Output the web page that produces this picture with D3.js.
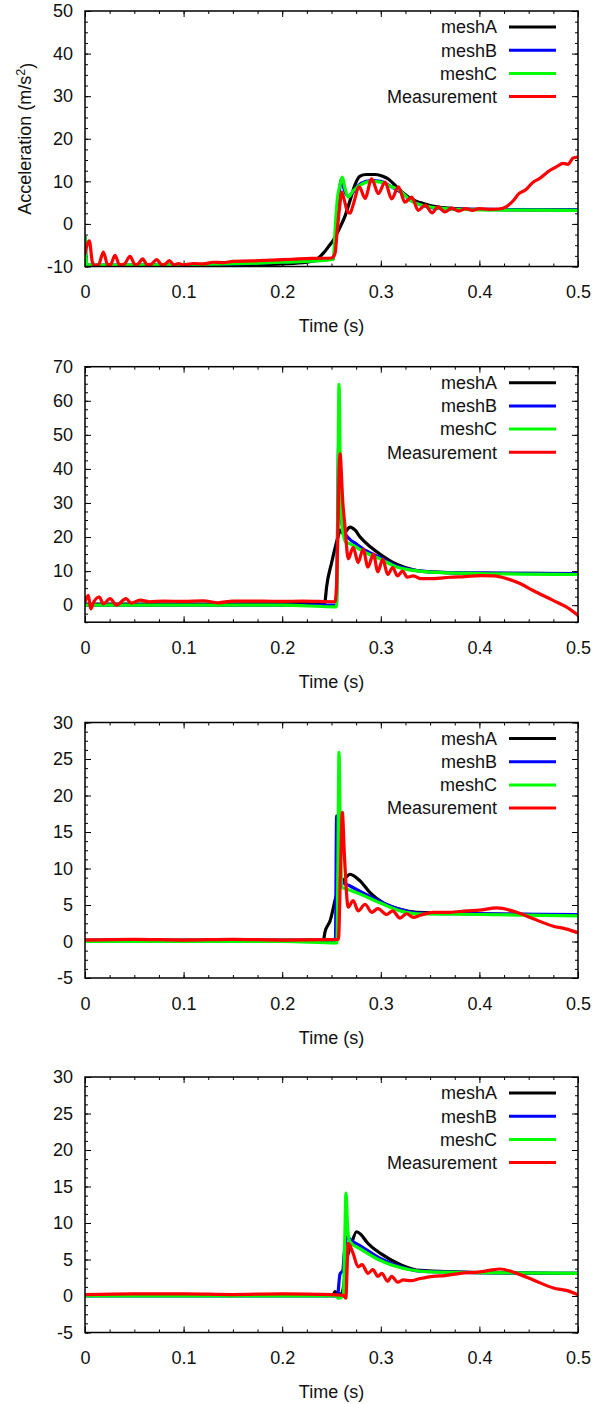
<!DOCTYPE html>
<html><head><meta charset="utf-8">
<script src="https://cdn.jsdelivr.net/npm/d3@7"></script>
<style>
body{margin:0;background:#fff}
svg{display:block}
text{font-family:"Liberation Sans",Arial,Helvetica,sans-serif;fill:#111}
</style>
</head><body>
<svg id="chart" width="595" height="1404"></svg>
<script>
// ---------- data ----------
const seriesNames = ["meshA", "meshB", "meshC", "Measurement"];
const seriesColors = ["#000000", "#0000ff", "#00ff00", "#ff0000"];
const xTicks = [0, 0.1, 0.2, 0.3, 0.4, 0.5];
const xTickLabels = ["0", "0.1", "0.2", "0.3", "0.4", "0.5"];
const xLabel = "Time (s)";
const yLabelMain = "Acceleration (m/s";
const yLabelSup = "2";
const yLabelEnd = ")";

const p1YTicks = [-10, 0, 10, 20, 30, 40, 50];
const p2YTicks = [0, 10, 20, 30, 40, 50, 60, 70];
const p3YTicks = [-5, 0, 5, 10, 15, 20, 25, 30];
const p4YTicks = [-5, 0, 5, 10, 15, 20, 25, 30];
const p1YDomain = [-10, 50];
const p2YDomain = [-5, 70];
const p3YDomain = [-5, 30];
const p4YDomain = [-5, 30];

// Panel 1
const p1MeshA = [[0,-9.8],[0.05,-9.8],[0.1,-9.8],[0.15,-9.7],[0.2,-9.4],[0.225,-9.0],[0.235,-8.3],[0.242,-6.8],[0.248,-5],[0.2515,-3.9],[0.2586,-0.8],[0.264,2],[0.2688,5.5],[0.274,9.3],[0.279,11.2],[0.285,11.6],[0.295,11.6],[0.302,11.2],[0.308,10.5],[0.316,8.7],[0.323,7.2],[0.33,6],[0.337,5.2],[0.343,4.8],[0.35,4.3],[0.36,3.9],[0.375,3.6],[0.4,3.4],[0.45,3.3],[0.5,3.3]];
const p1MeshB = [[0,-3],[0.002,-9.7],[0.1,-9.6],[0.2,-9.0],[0.245,-8.4],[0.252,-8.2],[0.2545,-2],[0.257,5],[0.26,10.5],[0.263,8],[0.267,6.5],[0.272,7.5],[0.28,9.5],[0.29,10.2],[0.3,10],[0.31,8.8],[0.32,7.5],[0.33,5.6],[0.34,4.5],[0.35,3.9],[0.37,3.5],[0.4,3.4],[0.5,3.3]];
const p1MeshC = [[0,-3],[0.002,-9.7],[0.1,-9.6],[0.2,-9.0],[0.245,-8.5],[0.252,-8.3],[0.2535,-2],[0.256,6],[0.2585,9],[0.261,11],[0.2635,8.5],[0.267,6.3],[0.272,7.8],[0.282,9.5],[0.29,10],[0.3,9.8],[0.31,8.8],[0.319,7.9],[0.33,5.5],[0.345,4.2],[0.36,3.7],[0.37,3.5],[0.4,3.3],[0.5,3.2]];
const p1Meas = [[0,-7],[0.0044,-4],[0.0075,-9],[0.01,-9.8],[0.014,-9.5],[0.0186,-6.6],[0.023,-9.6],[0.026,-9.5],[0.0304,-7.4],[0.035,-9.6],[0.04,-9.4],[0.0456,-7.6],[0.051,-9.6],[0.054,-9.4],[0.0585,-8.2],[0.063,-9.6],[0.067,-9.5],[0.0727,-8.4],[0.078,-9.6],[0.081,-9.5],[0.0855,-8.6],[0.09,-9.6],[0.095,-9.3],[0.1,-9.6],[0.11,-9.3],[0.12,-9.4],[0.13,-9.0],[0.14,-9.1],[0.15,-8.8],[0.17,-8.7],[0.19,-8.5],[0.21,-8.3],[0.23,-8.1],[0.25,-8.0],[0.2535,-7],[0.256,-1],[0.2585,4.5],[0.2603,7.5],[0.2625,6],[0.2665,2.8],[0.2688,2.5],[0.272,4.5],[0.2782,8.7],[0.284,6],[0.2908,10.6],[0.2975,7.1],[0.3043,9.8],[0.311,5.9],[0.3178,8.7],[0.3245,5.1],[0.3313,6.3],[0.338,3.2],[0.345,4.4],[0.352,2.6],[0.358,4],[0.365,2.8],[0.372,3.7],[0.379,3],[0.386,3.6],[0.393,3.2],[0.4,3.6],[0.41,3.4],[0.42,3.5],[0.427,4.0],[0.4345,5.5],[0.44,7.1],[0.447,8],[0.4545,9.8],[0.46,10.5],[0.4716,12.6],[0.478,13.4],[0.485,14.2],[0.49,14],[0.495,15.5],[0.5,15.7]];

// Panel 2
const p2MeshA = [[0,0.3],[0.1,0.3],[0.2,0.4],[0.243,0.6],[0.2434,1],[0.245,5.3],[0.25,12.3],[0.2566,20],[0.2588,22],[0.262,21],[0.2688,22.9],[0.274,22],[0.279,20],[0.29,17],[0.299,15],[0.316,12],[0.333,10.4],[0.35,9.8],[0.4,9.4],[0.5,9.3]];
const p2MeshB = [[0,0],[0.1,0],[0.2,0],[0.255,0],[0.256,20],[0.2572,47],[0.2585,30],[0.262,22],[0.268,19.5],[0.275,18],[0.285,16],[0.299,14],[0.316,11.5],[0.333,10.3],[0.35,9.8],[0.4,9.4],[0.5,9.2]];
const p2MeshC = [[0,0],[0.2,0],[0.255,-0.5],[0.2562,20],[0.2576,64.8],[0.2592,35],[0.2612,22],[0.2645,18.5],[0.2688,18],[0.275,17],[0.285,15.3],[0.299,13.6],[0.316,11.2],[0.333,10.2],[0.35,9.7],[0.4,9.3],[0.5,9.0]];
const p2Meas = [[0,1],[0.0034,2.9],[0.0058,-1.1],[0.009,1],[0.0145,2.4],[0.0186,0.4],[0.0254,1.9],[0.032,0],[0.0416,1.9],[0.047,0.6],[0.0558,1.5],[0.065,1],[0.08,1.2],[0.1,1.1],[0.12,1.3],[0.135,0.7],[0.15,1.2],[0.18,1.2],[0.2,1.1],[0.22,1.2],[0.2535,1.0],[0.255,5],[0.2586,44.5],[0.2615,30],[0.2637,23],[0.267,13.6],[0.272,17],[0.277,12.5],[0.282,16.4],[0.287,11.2],[0.2925,15],[0.297,9.8],[0.302,13.5],[0.307,9],[0.312,11],[0.317,8.6],[0.322,10],[0.327,8.2],[0.333,8.6],[0.34,7.8],[0.353,7.8],[0.37,8.2],[0.385,8.4],[0.4006,8.7],[0.415,8.6],[0.4276,7.8],[0.44,6.5],[0.4544,4.3],[0.4747,1.4],[0.4885,-0.6],[0.5,-3]];

// Panel 3
const p3MeshA = [[0,0.2],[0.2,0.2],[0.2418,0.2],[0.2434,1.3],[0.2485,2.8],[0.2553,6.5],[0.262,8.3],[0.2688,9.2],[0.279,8.3],[0.289,6.7],[0.3025,5.3],[0.3195,4.4],[0.3364,4],[0.4,3.8],[0.5,3.6]];
const p3MeshB = [[0,0],[0.2,0],[0.254,0],[0.2552,17.2],[0.2575,10],[0.2616,8.1],[0.2688,7.6],[0.28,6.8],[0.299,5.5],[0.3195,4.4],[0.3364,3.9],[0.4,3.8],[0.5,3.7]];
const p3MeshC = [[0,0],[0.2,0],[0.2555,-0.2],[0.2565,10],[0.2576,25.9],[0.259,14],[0.2605,7.4],[0.265,7.2],[0.275,6.7],[0.299,5.3],[0.3195,4.2],[0.3364,3.8],[0.4,3.7],[0.5,3.5]];
const p3Meas = [[0,0.2],[0.05,0.3],[0.1,0.2],[0.15,0.3],[0.2,0.2],[0.257,0.3],[0.2592,10],[0.261,17.7],[0.263,12],[0.267,4.7],[0.272,5.6],[0.277,4.2],[0.284,5.1],[0.2908,4],[0.297,4.5],[0.306,3.7],[0.312,4.2],[0.3195,3.2],[0.326,3.8],[0.333,3.3],[0.34,3.6],[0.353,4],[0.37,4],[0.387,4.2],[0.4,4.3],[0.4175,4.6],[0.4378,4],[0.4547,3.1],[0.475,2.1],[0.4885,1.7],[0.5,1.2]];

// Panel 4
const p4MeshA = [[0,0.2],[0.2,0.2],[0.252,0.2],[0.2535,0.6],[0.256,0.3],[0.26,0.3],[0.2625,1.5],[0.265,4.5],[0.2704,7.2],[0.2755,8.8],[0.28,8.4],[0.2857,7.4],[0.3,5.8],[0.32,4.3],[0.34,3.5],[0.4,3.2],[0.5,3.1]];
const p4MeshB = [[0,0],[0.2,0],[0.256,0],[0.2586,3],[0.2615,3.5],[0.263,6],[0.266,8.1],[0.27,7.6],[0.28,6.8],[0.299,5.2],[0.32,4],[0.34,3.4],[0.4,3.2],[0.5,3.1]];
const p4MeshC = [[0,0],[0.2,0],[0.255,0],[0.2566,-0.3],[0.262,0],[0.2635,8],[0.2647,14.1],[0.2665,9],[0.2688,7.4],[0.28,6.4],[0.299,4.9],[0.3296,3.6],[0.35,3.3],[0.4,3.2],[0.5,3.1]];
const p4Meas = [[0,0.2],[0.05,0.3],[0.1,0.3],[0.15,0.2],[0.2,0.3],[0.25,0.2],[0.262,0.1],[0.2645,-0.3],[0.267,7.2],[0.272,5.8],[0.277,4],[0.281,4.3],[0.287,3.1],[0.292,3.6],[0.297,2.7],[0.301,3.1],[0.307,2],[0.311,2.7],[0.317,1.9],[0.3228,2.2],[0.33,2.1],[0.34,2.4],[0.353,2.7],[0.365,2.8],[0.3803,3.1],[0.4006,3.3],[0.41,3.5],[0.4209,3.7],[0.4378,3.1],[0.4547,2.2],[0.475,1.1],[0.49,0.7],[0.5,0.15]];

// ---------- layout ----------
const panels = [
  {top: 11,    yDomain: p1YDomain, yTicks: p1YTicks, series: [p1MeshA, p1MeshB, p1MeshC, p1Meas], ylabel: true},
  {top: 366.7, yDomain: p2YDomain, yTicks: p2YTicks, series: [p2MeshA, p2MeshB, p2MeshC, p2Meas]},
  {top: 722.5, yDomain: p3YDomain, yTicks: p3YTicks, series: [p3MeshA, p3MeshB, p3MeshC, p3Meas]},
  {top: 1077,  yDomain: p4YDomain, yTicks: p4YTicks, series: [p4MeshA, p4MeshB, p4MeshC, p4Meas]}
];
const L = 85, R = 578, H = 255.5;
const FS = 18;

const svg = d3.select("#chart");
const x = d3.scaleLinear().domain([0, 0.5]).range([L, R]);

function minorVals(majors, domain) {
  const step = majors[1] - majors[0];
  const sub = step / 4;
  const out = [];
  for (let v = domain[0]; v <= domain[1] + 1e-9; v += sub) out.push(+v.toFixed(6));
  return out;
}

panels.forEach((p, pi) => {
  const top = p.top, bottom = top + H;
  const y = d3.scaleLinear().domain(p.yDomain).range([bottom, top]);
  const g = svg.append("g");

  const clipId = "clip" + pi;
  svg.append("clipPath").attr("id", clipId).append("rect")
    .attr("x", L).attr("y", top).attr("width", R - L).attr("height", H);

  const xm = minorVals(xTicks, [0, 0.5]);
  const ym = minorVals(p.yTicks, p.yDomain);
  const styleAxis = sel => { sel.select(".domain").remove(); sel.selectAll("line").attr("stroke", "#000").attr("stroke-width", 1); };
  g.append("g").attr("transform", `translate(0,${bottom})`).call(d3.axisBottom(x).tickValues(xm).tickSize(-3).tickFormat("")).call(styleAxis);
  g.append("g").attr("transform", `translate(0,${top})`).call(d3.axisTop(x).tickValues(xm).tickSize(-3).tickFormat("")).call(styleAxis);
  g.append("g").attr("transform", `translate(${L},0)`).call(d3.axisLeft(y).tickValues(ym).tickSize(-3).tickFormat("")).call(styleAxis);
  g.append("g").attr("transform", `translate(${R},0)`).call(d3.axisRight(y).tickValues(ym).tickSize(-3).tickFormat("")).call(styleAxis);

  const xb = g.append("g").attr("transform", `translate(0,${bottom})`)
    .call(d3.axisBottom(x).tickValues(xTicks).tickSize(-6).tickPadding(19).tickFormat((d, i) => xTickLabels[i]))
    .call(styleAxis);
  xb.selectAll("text").attr("font-size", FS).attr("fill", "#111");
  g.append("g").attr("transform", `translate(0,${top})`).call(d3.axisTop(x).tickValues(xTicks).tickSize(-6).tickFormat("")).call(styleAxis);
  const yl = g.append("g").attr("transform", `translate(${L},0)`)
    .call(d3.axisLeft(y).tickValues(p.yTicks).tickSize(-6).tickPadding(12).tickFormat(d => String(d)))
    .call(styleAxis);
  yl.selectAll("text").attr("font-size", FS).attr("fill", "#111");
  g.append("g").attr("transform", `translate(${R},0)`).call(d3.axisRight(y).tickValues(p.yTicks).tickSize(-6).tickFormat("")).call(styleAxis);
  g.selectAll(".tick text").attr("font-family", '"Liberation Sans",Arial,sans-serif');

  const line = d3.line().x(d => x(d[0])).y(d => y(d[1])).curve(d3.curveMonotoneX);
  const lg = g.append("g").attr("clip-path", `url(#${clipId})`);
  p.series.forEach((s, si) => {
    lg.append("path").datum(s).attr("d", line)
      .attr("fill", "none").attr("stroke", seriesColors[si])
      .attr("stroke-width", 3.2).attr("stroke-linejoin", "round").attr("stroke-linecap", "round");
  });

  g.append("rect").attr("x", L).attr("y", top).attr("width", R - L).attr("height", H)
    .attr("fill", "none").attr("stroke", "#000").attr("stroke-width", 1.5);

  seriesNames.forEach((name, si) => {
    const ly = top + 16 + si * 23.2;
    g.append("text").attr("x", 497).attr("y", ly).attr("dy", "0.35em")
      .attr("text-anchor", "end").attr("font-size", FS).text(name);
    g.append("line").attr("x1", 509).attr("x2", 556).attr("y1", ly).attr("y2", ly)
      .attr("stroke", seriesColors[si]).attr("stroke-width", 3);
  });

  g.append("text").attr("x", (L + R) / 2).attr("y", bottom + 65.5)
    .attr("text-anchor", "middle").attr("font-size", FS).text(xLabel);

  if (p.ylabel) {
    const t = g.append("text").attr("transform", `translate(31,${(top + bottom) / 2}) rotate(-90)`)
      .attr("text-anchor", "middle").attr("font-size", FS);
    t.append("tspan").text(yLabelMain);
    t.append("tspan").attr("dy", "-0.45em").attr("font-size", FS * 0.7).text(yLabelSup);
    t.append("tspan").attr("dy", "0.45em").text(yLabelEnd);
  }
});
</script>
</body></html>
